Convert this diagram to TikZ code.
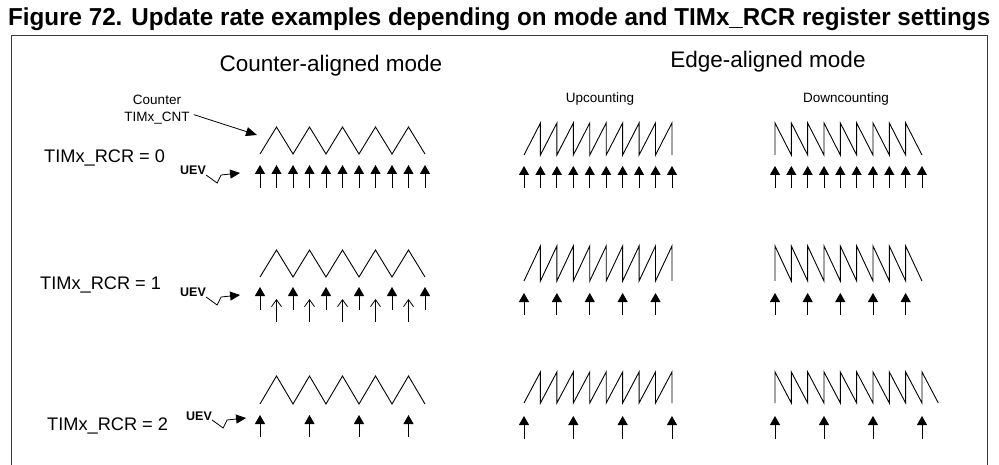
\documentclass[tikz,border=0pt]{standalone}
\usepackage{fontspec}
\setmainfont{Liberation Sans}
\usepackage{graphicx}
\usetikzlibrary{arrows.meta,positioning,calc}
\definecolor{cInk}{HTML}{000000}
\definecolor{cFrame}{HTML}{3A3A3A}
\tikzset{
  wave/.style={line width=0.9pt,color=cInk,line join=miter},
  evt/.style={-{Triangle[length=9pt,width=10pt]},line width=0.9pt,color=cInk},
  ovf/.style={-{Straight Barb[length=7pt,width=10pt]},line width=0.8pt,color=cInk},
  bolt/.style={-{Triangle[length=10pt,width=9pt]},line width=0.8pt,color=cInk},
  arr/.style={-{Triangle[length=11pt,width=9pt]},line width=0.8pt,color=cInk},
  modelbl/.style={font=\fontsize{22.5}{24}\selectfont,inner sep=0pt,anchor=base},
  sublbl/.style={font=\fontsize{13.5}{15}\selectfont,inner sep=0pt,anchor=base},
  rcrlbl/.style={font=\fontsize{18.2}{20}\selectfont,inner sep=0pt,anchor=base west},
  uevlbl/.style={font=\fontsize{12.5}{13}\selectfont\bfseries,inner sep=0pt,anchor=base west},
}

\begin{document}
\begin{tikzpicture}[x=1pt,y=-1pt]
  \useasboundingbox (0,0) rectangle (999,465);
  % title and frame
  \node[inner sep=0pt,anchor=base west] (title) at (8,26)
    {\resizebox{982pt}{\height}{\fontsize{24.5}{26}\selectfont\bfseries Figure 72. Update rate examples depending on mode and TIMx\_RCR register settings}};
  \draw[cFrame,line width=1pt] (11,465) -- (11,36) -- (987,36) -- (987,465);

  % headings
  \node[modelbl] (cam) at (331,72) {Counter-aligned mode};
  \node[modelbl] (eam) at (768,68) {Edge-aligned mode};
  \node[sublbl] (up) at (600,103) {Upcounting};
  \node[sublbl] (down) at (846,103) {Downcounting};
  \node[sublbl] (cntA) at (157,105) {Counter};
  \node[sublbl] (cntB) at (157,122) {TIMx\_CNT};
  \coordinate (cntTip) at (257,135);
  \draw[arr] ([xshift=4pt,yshift=4pt]cntB.east) -- (cntTip);

  % row labels
  \node[rcrlbl] (rcr0) at (44,163) {TIMx\_RCR = 0};
  \node[rcrlbl] (rcr1) at (40,289) {TIMx\_RCR = 1};
  \node[rcrlbl] (rcr2) at (47,430) {TIMx\_RCR = 2};
  \node[uevlbl] (uev0) at (180,175) {UEV};
  \node[uevlbl] (uev1) at (180,297) {UEV};
  \node[uevlbl] (uev2) at (186,420) {UEV};
  \foreach \r in {0,1,2} {
    \coordinate (bolt\r) at ($(uev\r.base east)+(34,-2)$);
    \draw[bolt] (uev\r.base east) -- ++(11,8) -- ++(4,-8) -- (bolt\r);
  }

  % counter-aligned: triangle waves
  \draw[wave] (260,154) \foreach \k in {1,...,5} { -- ++(16.5,-27) -- ++(16.5,27) };
  \draw[wave] (260,277) \foreach \k in {1,...,5} { -- ++(16.5,-27) -- ++(16.5,27) };
  \draw[wave] (260,404) \foreach \k in {1,...,5} { -- ++(16.5,-28) -- ++(16.5,28) };
  \foreach \k in {0,...,10} \draw[evt] ({260+16.5*\k},188) -- ++(0,-23);
  \foreach \k in {0,...,5} \draw[evt] ({260+33*\k},310) -- ++(0,-23);
  \foreach \k in {0,...,4} \draw[ovf] ({276.5+33*\k},322) -- ++(0,-23);
  \foreach \k in {0,...,3} \draw[evt] ({260+49.5*\k},437) -- ++(0,-22);

  % edge-aligned upcounting
  \foreach \y/\h in {155/32,281/35,403/31}
    \draw[wave] (524,\y) \foreach \k in {1,...,9} { -- ++(16.44,-\h) -- ++(0,\h) };
  \foreach \k in {0,...,9} \draw[evt] ({524+16.44*\k},188) -- ++(0,-22);
  \foreach \k in {0,2,...,8} \draw[evt] ({524+16.44*\k},315) -- ++(0,-22);
  \foreach \k in {0,3,...,9} \draw[evt] ({524+16.44*\k},439) -- ++(0,-23);

  % edge-aligned downcounting
  \foreach \y/\h/\n in {155/32/9,281/35/9,403/31/10}
    \draw[wave] (775,\y) \foreach \k in {1,...,\n} { -- ++(0,-\h) -- ++(16.33,\h) };
  \foreach \k in {0,...,9} \draw[evt] ({775+16.33*\k},188) -- ++(0,-22);
  \foreach \k in {0,2,...,8} \draw[evt] ({775+16.33*\k},315) -- ++(0,-22);
  \foreach \k in {0,3,...,9} \draw[evt] ({775+16.33*\k},439) -- ++(0,-23);
\end{tikzpicture}
\end{document}
